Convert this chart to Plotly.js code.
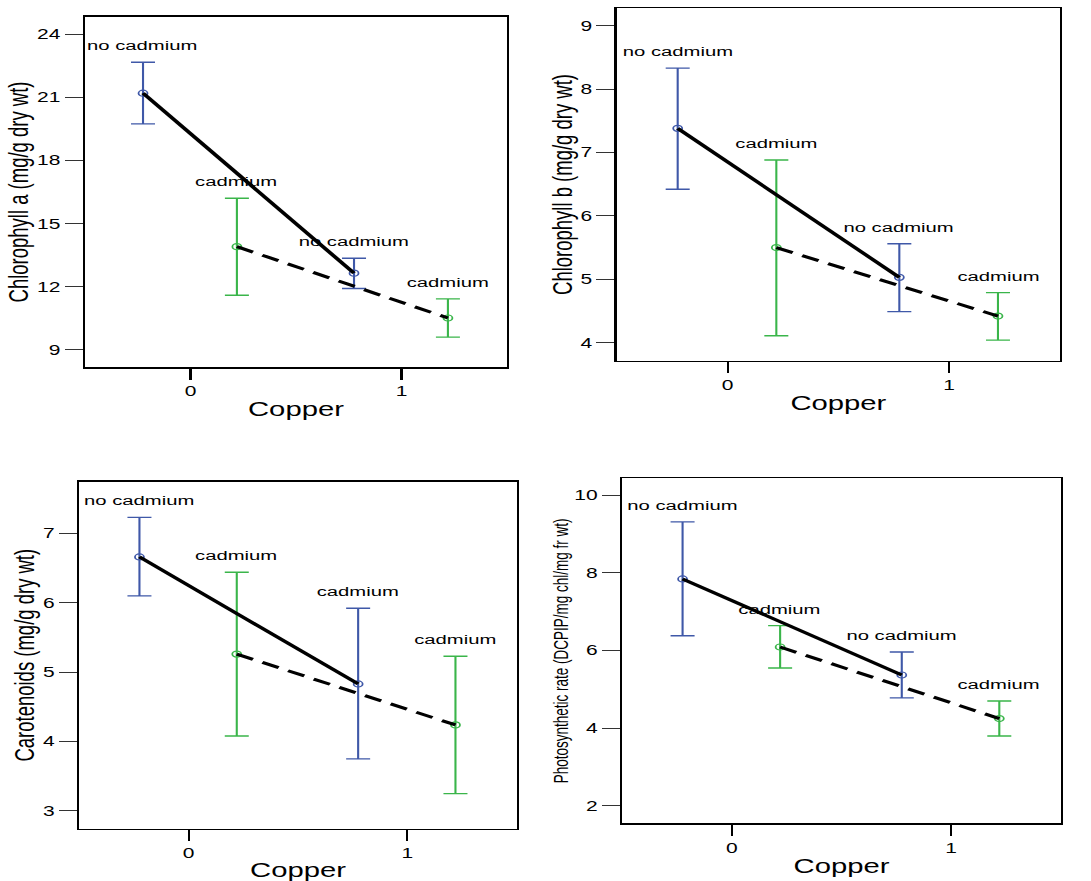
<!DOCTYPE html>
<html><head><meta charset="utf-8">
<script src="https://cdn.plot.ly/plotly-3.0.1.min.js"></script>
<style>
html,body{margin:0;padding:0;background:#fff;overflow:hidden;}
#wrap{width:1091px;height:881px;overflow:hidden;}
#chart{width:727px;height:881px;transform:scaleX(1.5007);transform-origin:0 0;}
</style></head><body><div id="wrap"><div id="chart"></div></div>
<script>
// ---- data ----
const copperLevels = [0, 1];
const axisTitles = ['Chlorophyll a (mg/g dry wt)', 'Chlorophyll b (mg/g dry wt)',
                    'Carotenoids (mg/g dry wt)', 'Photosynthetic rate (DCPIP/mg chl/mg fr wt)'];
const yTickStep = [3, 1, 1, 2];

// Chlorophyll a
const chlA_noCd_mean  = [21.20, 12.65];
const chlA_noCd_upper = [22.67, 13.36];
const chlA_noCd_lower = [19.74, 11.92];
const chlA_cd_mean    = [13.91, 10.52];
const chlA_cd_upper   = [16.21, 11.43];
const chlA_cd_lower   = [11.60, 9.61];
const chlA_noCd_labels = ['no cadmium', 'no cadmium'];
const chlA_cd_labels   = ['cadmium', 'cadmium'];

// Chlorophyll b
const chlB_noCd_mean  = [7.38, 5.03];
const chlB_noCd_upper = [8.33, 5.56];
const chlB_noCd_lower = [6.42, 4.49];
const chlB_cd_mean    = [5.50, 4.42];
const chlB_cd_upper   = [6.88, 4.79];
const chlB_cd_lower   = [4.11, 4.04];
const chlB_noCd_labels = ['no cadmium', 'no cadmium'];
const chlB_cd_labels   = ['cadmium', 'cadmium'];

// Carotenoids
const car_noCd_mean  = [6.66, 4.83];
const car_noCd_upper = [7.23, 5.92];
const car_noCd_lower = [6.10, 3.75];
const car_cd_mean    = [5.26, 4.24];
const car_cd_upper   = [6.44, 5.23];
const car_cd_lower   = [4.08, 3.25];
const car_noCd_labels = ['no cadmium', 'cadmium'];
const car_cd_labels   = ['cadmium', 'cadmium'];

// Photosynthetic rate
const ps_noCd_mean  = [7.84, 5.37];
const ps_noCd_upper = [9.31, 5.96];
const ps_noCd_lower = [6.38, 4.78];
const ps_cd_mean    = [6.09, 4.25];
const ps_cd_upper   = [6.64, 4.70];
const ps_cd_lower   = [5.55, 3.80];
const ps_noCd_labels = ['no cadmium', 'no cadmium'];
const ps_cd_labels   = ['cadmium', 'cadmium'];

// ---- styling ----
const BLUE = '#3f58a8', GREEN = '#3ab54a';
const DODGE = 0.225;
const FONT = 'Liberation Sans, Arial, sans-serif';

const panels = [
  {noCd:[chlA_noCd_mean, chlA_noCd_upper, chlA_noCd_lower, chlA_noCd_labels],
   cd:[chlA_cd_mean, chlA_cd_upper, chlA_cd_lower, chlA_cd_labels],
   xd:[0.0779, 0.4647], yd:[0.5834, 0.9807], yr:[8.19, 24.82], tfs:18.5, so:0},
  {noCd:[chlB_noCd_mean, chlB_noCd_upper, chlB_noCd_lower, chlB_noCd_labels],
   cd:[chlB_cd_mean, chlB_cd_upper, chlB_cd_lower, chlB_cd_labels],
   xd:[0.5653, 0.9716], yd:[0.5906, 0.9906], yr:[3.716, 9.274], tfs:18.5, so:0},
  {noCd:[car_noCd_mean, car_noCd_upper, car_noCd_lower, car_noCd_labels],
   cd:[car_cd_mean, car_cd_upper, car_cd_lower, car_cd_labels],
   xd:[0.0727, 0.4736], yd:[0.0594, 0.4532], yr:[2.745, 7.744], tfs:18.5, so:0},
  {noCd:[ps_noCd_mean, ps_noCd_upper, ps_noCd_lower, ps_noCd_labels],
   cd:[ps_cd_mean, ps_cd_upper, ps_cd_lower, ps_cd_labels],
   xd:[0.5704, 0.9722], yd:[0.0655, 0.4571], yr:[1.555, 10.43], tfs:13.5, so:0}
];

const traces = [], annotations = [];
const layout = {
  width: 727, height: 881,
  margin: {l:0, r:0, t:0, b:0},
  paper_bgcolor: '#fff', plot_bgcolor: '#fff',
  showlegend: false,
  font: {family: FONT, color: '#000'}
};

panels.forEach((p, i) => {
  const n = i + 1;
  const xa = 'x' + (n === 1 ? '' : n), ya = 'y' + (n === 1 ? '' : n);
  const groupsDef = [
    {d: p.noCd, off: -DODGE, color: BLUE, dash: 'solid', name: 'no cadmium'},
    {d: p.cd, off: DODGE - 0.005, color: GREEN, dash: '12px,7px', name: 'cadmium'}
  ];
  groupsDef.forEach(g => {
    const [mean, up, lo] = g.d;
    const xs = copperLevels.map(c => c + g.off);
    traces.push({
      type: 'scatter', mode: 'markers', xaxis: xa, yaxis: ya, name: g.name,
      x: xs, y: mean,
      marker: {symbol: 'circle-open', size: 6, color: g.color, line: {width: 1.2, color: g.color}},
      error_y: {type: 'data', symmetric: false,
                array: up.map((u, k) => u - mean[k]),
                arrayminus: lo.map((l, k) => mean[k] - l),
                color: g.color, thickness: 1.4, width: 8},
      hoverinfo: 'x+y'
    });
  });
  groupsDef.forEach(g => {
    const [mean, up, lo, labels] = g.d;
    const xs = copperLevels.map(c => c + g.off);
    traces.push({
      type: 'scatter', mode: 'lines', xaxis: xa, yaxis: ya, name: g.name,
      x: xs, y: mean,
      line: {color: '#000', width: 3, dash: g.dash}
    });
    xs.forEach((x, k) => {
      annotations.push({
        xref: xa, yref: ya, x: x, y: up[k], text: labels[k],
        showarrow: false, yanchor: 'bottom', yshift: 7,
        font: {family: FONT, size: 13.5, color: '#000'}
      });
    });
  });
  layout['xaxis' + (n === 1 ? '' : n)] = {
    domain: p.xd, anchor: ya, range: [-0.5, 1.5],
    tickvals: copperLevels, ticktext: copperLevels.map(String),
    ticks: 'outside', ticklen: 11, tickwidth: 1.4, tickcolor: '#000',
    showgrid: false, zeroline: false,
    showline: true, mirror: true, linecolor: '#000', linewidth: 1.6,
    tickfont: {family: FONT, size: 14, color: '#000'},
    automargin: true,
    title: {text: 'Copper', font: {family: FONT, size: 19.5, color: '#000'}, standoff: 4}
  };
  layout['yaxis' + (n === 1 ? '' : n)] = {
    domain: p.yd, anchor: xa, range: p.yr, dtick: yTickStep[i], tick0: 0,
    ticks: 'outside', ticklen: 12, tickwidth: 1, tickcolor: '#333',
    showgrid: false, zeroline: false,
    showline: true, mirror: true, linecolor: '#000', linewidth: 1.6,
    tickfont: {family: FONT, size: 14, color: '#000'},
    automargin: true,
    title: {text: axisTitles[i], font: {family: FONT, size: p.tfs, color: '#000'}, standoff: p.so}
  };
});
layout.annotations = annotations;

Plotly.newPlot('chart', traces, layout, {displayModeBar: false, staticPlot: true});
</script>
</body></html>
